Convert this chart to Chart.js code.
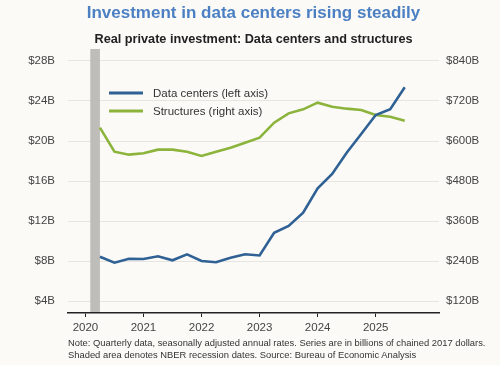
<!DOCTYPE html>
<html>
<head>
<meta charset="utf-8">
<script src="https://cdn.jsdelivr.net/npm/chart.js@4.4.1/dist/chart.umd.min.js"></script>
<style>
    body { margin: 0; background: #fbfaf7; font-family: "Liberation Sans", Arial, sans-serif; }
    #wrap { position: relative; width: 500px; height: 365px; overflow: hidden; }
    #chart { position: absolute; left: 0; top: 0; }
    .title { position: absolute; top: 3px; left: 0; width: 507px; text-align: center;
             font-weight: bold; font-size: 17px; color: #4c80c3; }
    .subtitle { position: absolute; top: 32px; left: 0; width: 507px; text-align: center;
                font-weight: bold; font-size: 12.7px; color: #222; }
    .note { position: absolute; top: 337px; left: 68px; font-size: 9.4px; line-height: 11.5px; color: #333; white-space: nowrap; }
</style>
</head>
<body>
<div id="wrap">
    <canvas id="chart" width="500" height="365"></canvas>
    <div class="title">Investment in data centers rising steadily</div>
    <div class="subtitle">Real private investment: Data centers and structures</div>
    <div class="note">Note: Quarterly data, seasonally adjusted annual rates. Series are in billions of chained 2017 dollars.<br>Shaded area denotes NBER recession dates. Source: Bureau of Economic Analysis</div>
</div>
<script>
// Quarterly observations, Q2 2020 - Q3 2025
const quarterLabels = [
    '2020Q2', '2020Q3', '2020Q4',
    '2021Q1', '2021Q2', '2021Q3', '2021Q4',
    '2022Q1', '2022Q2', '2022Q3', '2022Q4',
    '2023Q1', '2023Q2', '2023Q3', '2023Q4',
    '2024Q1', '2024Q2', '2024Q3', '2024Q4',
    '2025Q1', '2025Q2', '2025Q3'
];

// Data centers, $B (left axis)
const dataCenters = [
    8.43, 7.83, 8.23,
    8.20, 8.47, 8.07, 8.67,
    8.00, 7.87, 8.33, 8.67,
    8.55, 10.83, 11.50, 12.83,
    15.27, 16.70, 18.83, 20.70,
    22.60, 23.17, 25.37
];

// Structures, $B (right axis)
const structures = [
    640, 568, 559,
    563, 574, 574, 568,
    555, 568, 580, 595,
    610, 655, 683, 695,
    715, 703, 697, 693,
    678, 673, 661
];

const leftTicks = [4, 8, 12, 16, 20, 24, 28];
const rightTicks = [120, 240, 360, 480, 600, 720, 840];
const yearTicks = [2020, 2021, 2022, 2023, 2024, 2025];

// NBER recession, Feb 2020 - Apr 2020
const recessionStart = 2020 + 1 / 12;
const recessionEnd = 2020 + 3 / 12;

const seriesNames = ['Data centers (left axis)', 'Structures (right axis)'];
const blue = '#2f6194';
const green = '#8cb43c';

// quarter label -> decimal year at start of the quarter
function quarterToYear(q) {
    const year = parseInt(q.slice(0, 4), 10);
    const n = parseInt(q.slice(5), 10);
    return year + (n - 1) / 4;
}

const xs = quarterLabels.map(quarterToYear);

const recessionShade = {
    id: 'recessionShade',
    beforeDatasetsDraw(chart) {
        const { ctx, chartArea, scales } = chart;
        const x1 = scales.x.getPixelForValue(recessionStart);
        const x2 = scales.x.getPixelForValue(recessionEnd);
        ctx.save();
        ctx.fillStyle = '#bebdb9';
        ctx.fillRect(x1, chartArea.top, x2 - x1, chartArea.bottom - chartArea.top - 1);
        ctx.restore();
    }
};

const insideLegend = {
    id: 'insideLegend',
    afterDatasetsDraw(chart) {
        const ctx = chart.ctx;
        const colors = [blue, green];
        ctx.save();
        ctx.font = '11.5px "Liberation Sans", Arial, sans-serif';
        ctx.textBaseline = 'middle';
        seriesNames.forEach((name, i) => {
            const y = 93 + i * 18;
            ctx.strokeStyle = colors[i];
            ctx.lineWidth = 3;
            ctx.beginPath();
            ctx.moveTo(109, y);
            ctx.lineTo(143, y);
            ctx.stroke();
            ctx.fillStyle = '#333';
            ctx.fillText(name, 153, y + 1);
        });
        ctx.restore();
    }
};

const tickFont = { family: '"Liberation Sans", Arial, sans-serif', size: 11.5 };

new Chart(document.getElementById('chart').getContext('2d'), {
    type: 'line',
    data: {
        datasets: [
            {
                label: seriesNames[0],
                data: xs.map((x, i) => ({ x: x, y: dataCenters[i] })),
                yAxisID: 'y',
                borderColor: blue,
                borderWidth: 2.6,
                pointRadius: 0,
                tension: 0
            },
            {
                label: seriesNames[1],
                data: xs.map((x, i) => ({ x: x, y: structures[i] })),
                yAxisID: 'y1',
                borderColor: green,
                borderWidth: 2.6,
                pointRadius: 0,
                tension: 0
            }
        ]
    },
    options: {
        responsive: false,
        animation: false,
        layout: { padding: { top: 49, bottom: 30, left: 0, right: 0 } },
        plugins: {
            legend: { display: false },
            tooltip: { enabled: false }
        },
        scales: {
            x: {
                type: 'linear',
                min: 2019.7,
                max: 2026.09,
                afterBuildTicks: s => { s.ticks = yearTicks.map(v => ({ value: v })); },
                afterFit: s => { s.height = 22; },
                ticks: {
                    callback: v => String(v),
                    font: tickFont,
                    color: '#444',
                    padding: 4,
                    maxRotation: 0
                },
                grid: { drawOnChartArea: false, drawTicks: true, tickLength: 4, color: '#222' },
                border: { color: '#222', width: 1.5 }
            },
            y: {
                position: 'left',
                min: 2.8,
                max: 29.2,
                afterBuildTicks: s => { s.ticks = leftTicks.map(v => ({ value: v })); },
                afterFit: s => { s.width = 68; },
                ticks: {
                    callback: v => '$' + v + 'B',
                    font: tickFont,
                    color: '#444',
                    padding: 13
                },
                grid: { color: '#e6e5e1', drawTicks: false },
                border: { display: false }
            },
            y1: {
                position: 'right',
                min: 84,
                max: 876,
                afterBuildTicks: s => { s.ticks = rightTicks.map(v => ({ value: v })); },
                afterFit: s => { s.width = 61; },
                ticks: {
                    callback: v => '$' + v + 'B',
                    font: tickFont,
                    color: '#444',
                    padding: 7
                },
                grid: { display: false, drawTicks: false },
                border: { display: false }
            }
        }
    },
    plugins: [recessionShade, insideLegend]
});
</script>
</body>
</html>
